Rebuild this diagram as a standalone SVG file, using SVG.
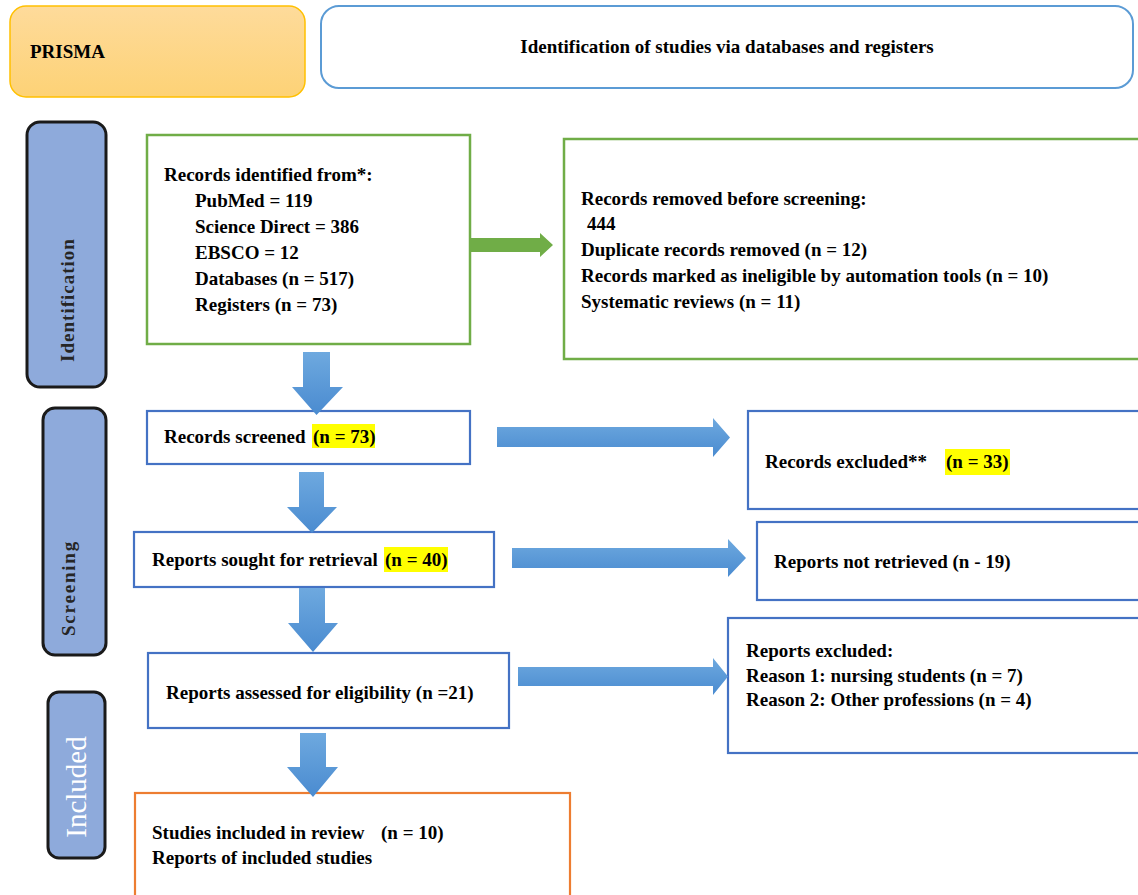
<svg xmlns="http://www.w3.org/2000/svg" width="1138" height="895" viewBox="0 0 1138 895">
<defs>
  <linearGradient id="gPrisma" x1="0" y1="0" x2="0" y2="1">
    <stop offset="0" stop-color="#fedb9b"/>
    <stop offset="1" stop-color="#fdd276"/>
  </linearGradient>
  <linearGradient id="gBlue" x1="0" y1="0" x2="0" y2="1">
    <stop offset="0" stop-color="#6ea9df"/>
    <stop offset="1" stop-color="#4a8bd0"/>
  </linearGradient>
</defs>
<style>
  text { font-family: "Liberation Serif", "Times New Roman", serif; font-weight: bold; font-size: 19px; fill: #000; }
  .blue { fill: #fff; stroke: #4472c4; stroke-width: 2.2; }
  .green { fill: #fff; stroke: #70ad47; stroke-width: 2.5; }
  .orange { fill: #fff; stroke: #ed7d31; stroke-width: 2.2; }
  .side { fill: #8eaadb; stroke: #1a1a1a; stroke-width: 3; }
  .hl { fill: #ffff00; }
  .side-t { font-size: 19px; fill: #262626; }
  .inc-t { font-size: 29px; font-weight: normal; fill: #ffffff; }
  .barr { fill: url(#gBlue); }
  .garr { fill: #70ad47; }
</style>

<g id="prisma">
  <rect x="10" y="6" width="295" height="91" rx="16" fill="url(#gPrisma)" stroke="#ffc000" stroke-width="1.5"/>
  <text x="30" y="58">PRISMA</text>
</g>

<g id="header">
  <rect x="321" y="6" width="812" height="82" rx="18" fill="#fff" stroke="#5b9bd5" stroke-width="2"/>
  <text x="727" y="53" text-anchor="middle">Identification of studies via databases and registers</text>
</g>

<g id="label-identification">
  <rect class="side" x="27" y="122" width="79" height="265" rx="13"/>
  <text class="side-t" letter-spacing="1" transform="translate(67,300) rotate(-90)" text-anchor="middle" dominant-baseline="central">Identification</text>
</g>

<g id="label-screening">
  <rect class="side" x="43" y="408" width="63" height="247" rx="12"/>
  <text class="side-t" letter-spacing="1.8" transform="translate(68,588) rotate(-90)" text-anchor="middle" dominant-baseline="central">Screening</text>
</g>

<g id="label-included">
  <rect class="side" x="48" y="692" width="57" height="166" rx="11"/>
  <text class="inc-t" transform="translate(76,787) rotate(-90)" text-anchor="middle" dominant-baseline="central">Included</text>
</g>

<g id="records-identified">
  <rect class="green" x="147" y="135" width="323" height="209"/>
  <text x="164" y="181">Records identified from*:</text>
  <text x="195" y="207">PubMed = 119</text>
  <text x="195" y="233">Science Direct = 386</text>
  <text x="195" y="259">EBSCO = 12</text>
  <text x="195" y="285">Databases (n = 517)</text>
  <text x="195" y="311">Registers (n = 73)</text>
</g>

<g id="records-removed">
  <rect class="green" x="564" y="139" width="590" height="220"/>
  <text x="581" y="205">Records removed before screening:</text>
  <text x="587" y="230">444</text>
  <text x="581" y="256">Duplicate records removed (n = 12)</text>
  <text x="581" y="282">Records marked as ineligible by automation tools (n = 10)</text>
  <text x="581" y="308">Systematic reviews (n = 11)</text>
</g>

<g id="records-screened">
  <rect class="blue" x="147" y="411" width="323" height="53"/>
  <rect class="hl" x="312" y="424" width="63" height="24"/>
  <text x="164" y="443">Records screened</text>
  <text x="313" y="443">(n = 73)</text>
</g>

<g id="records-excluded">
  <rect class="blue" x="748" y="411" width="406" height="98"/>
  <rect class="hl" x="945" y="449" width="65" height="26"/>
  <text x="765" y="468">Records excluded**</text>
  <text x="946" y="468">(n = 33)</text>
</g>

<g id="reports-sought">
  <rect class="blue" x="134" y="532" width="360" height="55"/>
  <rect class="hl" x="384" y="547" width="64" height="25"/>
  <text x="152" y="566">Reports sought for retrieval</text>
  <text x="385" y="566">(n = 40)</text>
</g>

<g id="reports-not-retrieved">
  <rect class="blue" x="757" y="522" width="397" height="78"/>
  <text x="774" y="568">Reports not retrieved (n - 19)</text>
</g>

<g id="reports-assessed">
  <rect class="blue" x="148" y="653" width="361" height="75"/>
  <text x="166" y="699">Reports assessed for eligibility (n =21)</text>
</g>

<g id="reports-excluded">
  <rect class="blue" x="728" y="618" width="426" height="135"/>
  <text x="746" y="657">Reports excluded:</text>
  <text x="746" y="682">Reason 1: nursing students (n = 7)</text>
  <text x="746" y="706">Reason 2: Other professions (n = 4)</text>
</g>

<g id="studies-included">
  <rect class="orange" x="135" y="793" width="435" height="110"/>
  <text x="152" y="839">Studies included in review</text>
  <text x="381" y="839">(n = 10)</text>
  <text x="152" y="864">Reports of included studies</text>
</g>

<g id="connectors">
  <path class="garr" d="M470,238 H540 V233 L553,245 L540,257 V252 H470 Z"/>
  <path class="barr" d="M303,352 H330 V387 H343 L316.5,415 L292,387 H303 Z"/>
  <path class="barr" d="M299,472 H324 V507 H337 L312,533 L287,507 H299 Z"/>
  <path class="barr" d="M299,588 H325 V623 H338 L313,652 L288,623 H299 Z"/>
  <path class="barr" d="M300,733 H326 V767 H338 L313,797 L287,767 H300 Z"/>
  <path class="barr" d="M497,427 H713 V418 L730,437.5 L713,457 V447 H497 Z"/>
  <path class="barr" d="M512,548 H728 V539 L746,558 L728,577 V568 H512 Z"/>
  <path class="barr" d="M518,667 H713 V658 L728,676.5 L713,695 V686 H518 Z"/>
</g>
</svg>
